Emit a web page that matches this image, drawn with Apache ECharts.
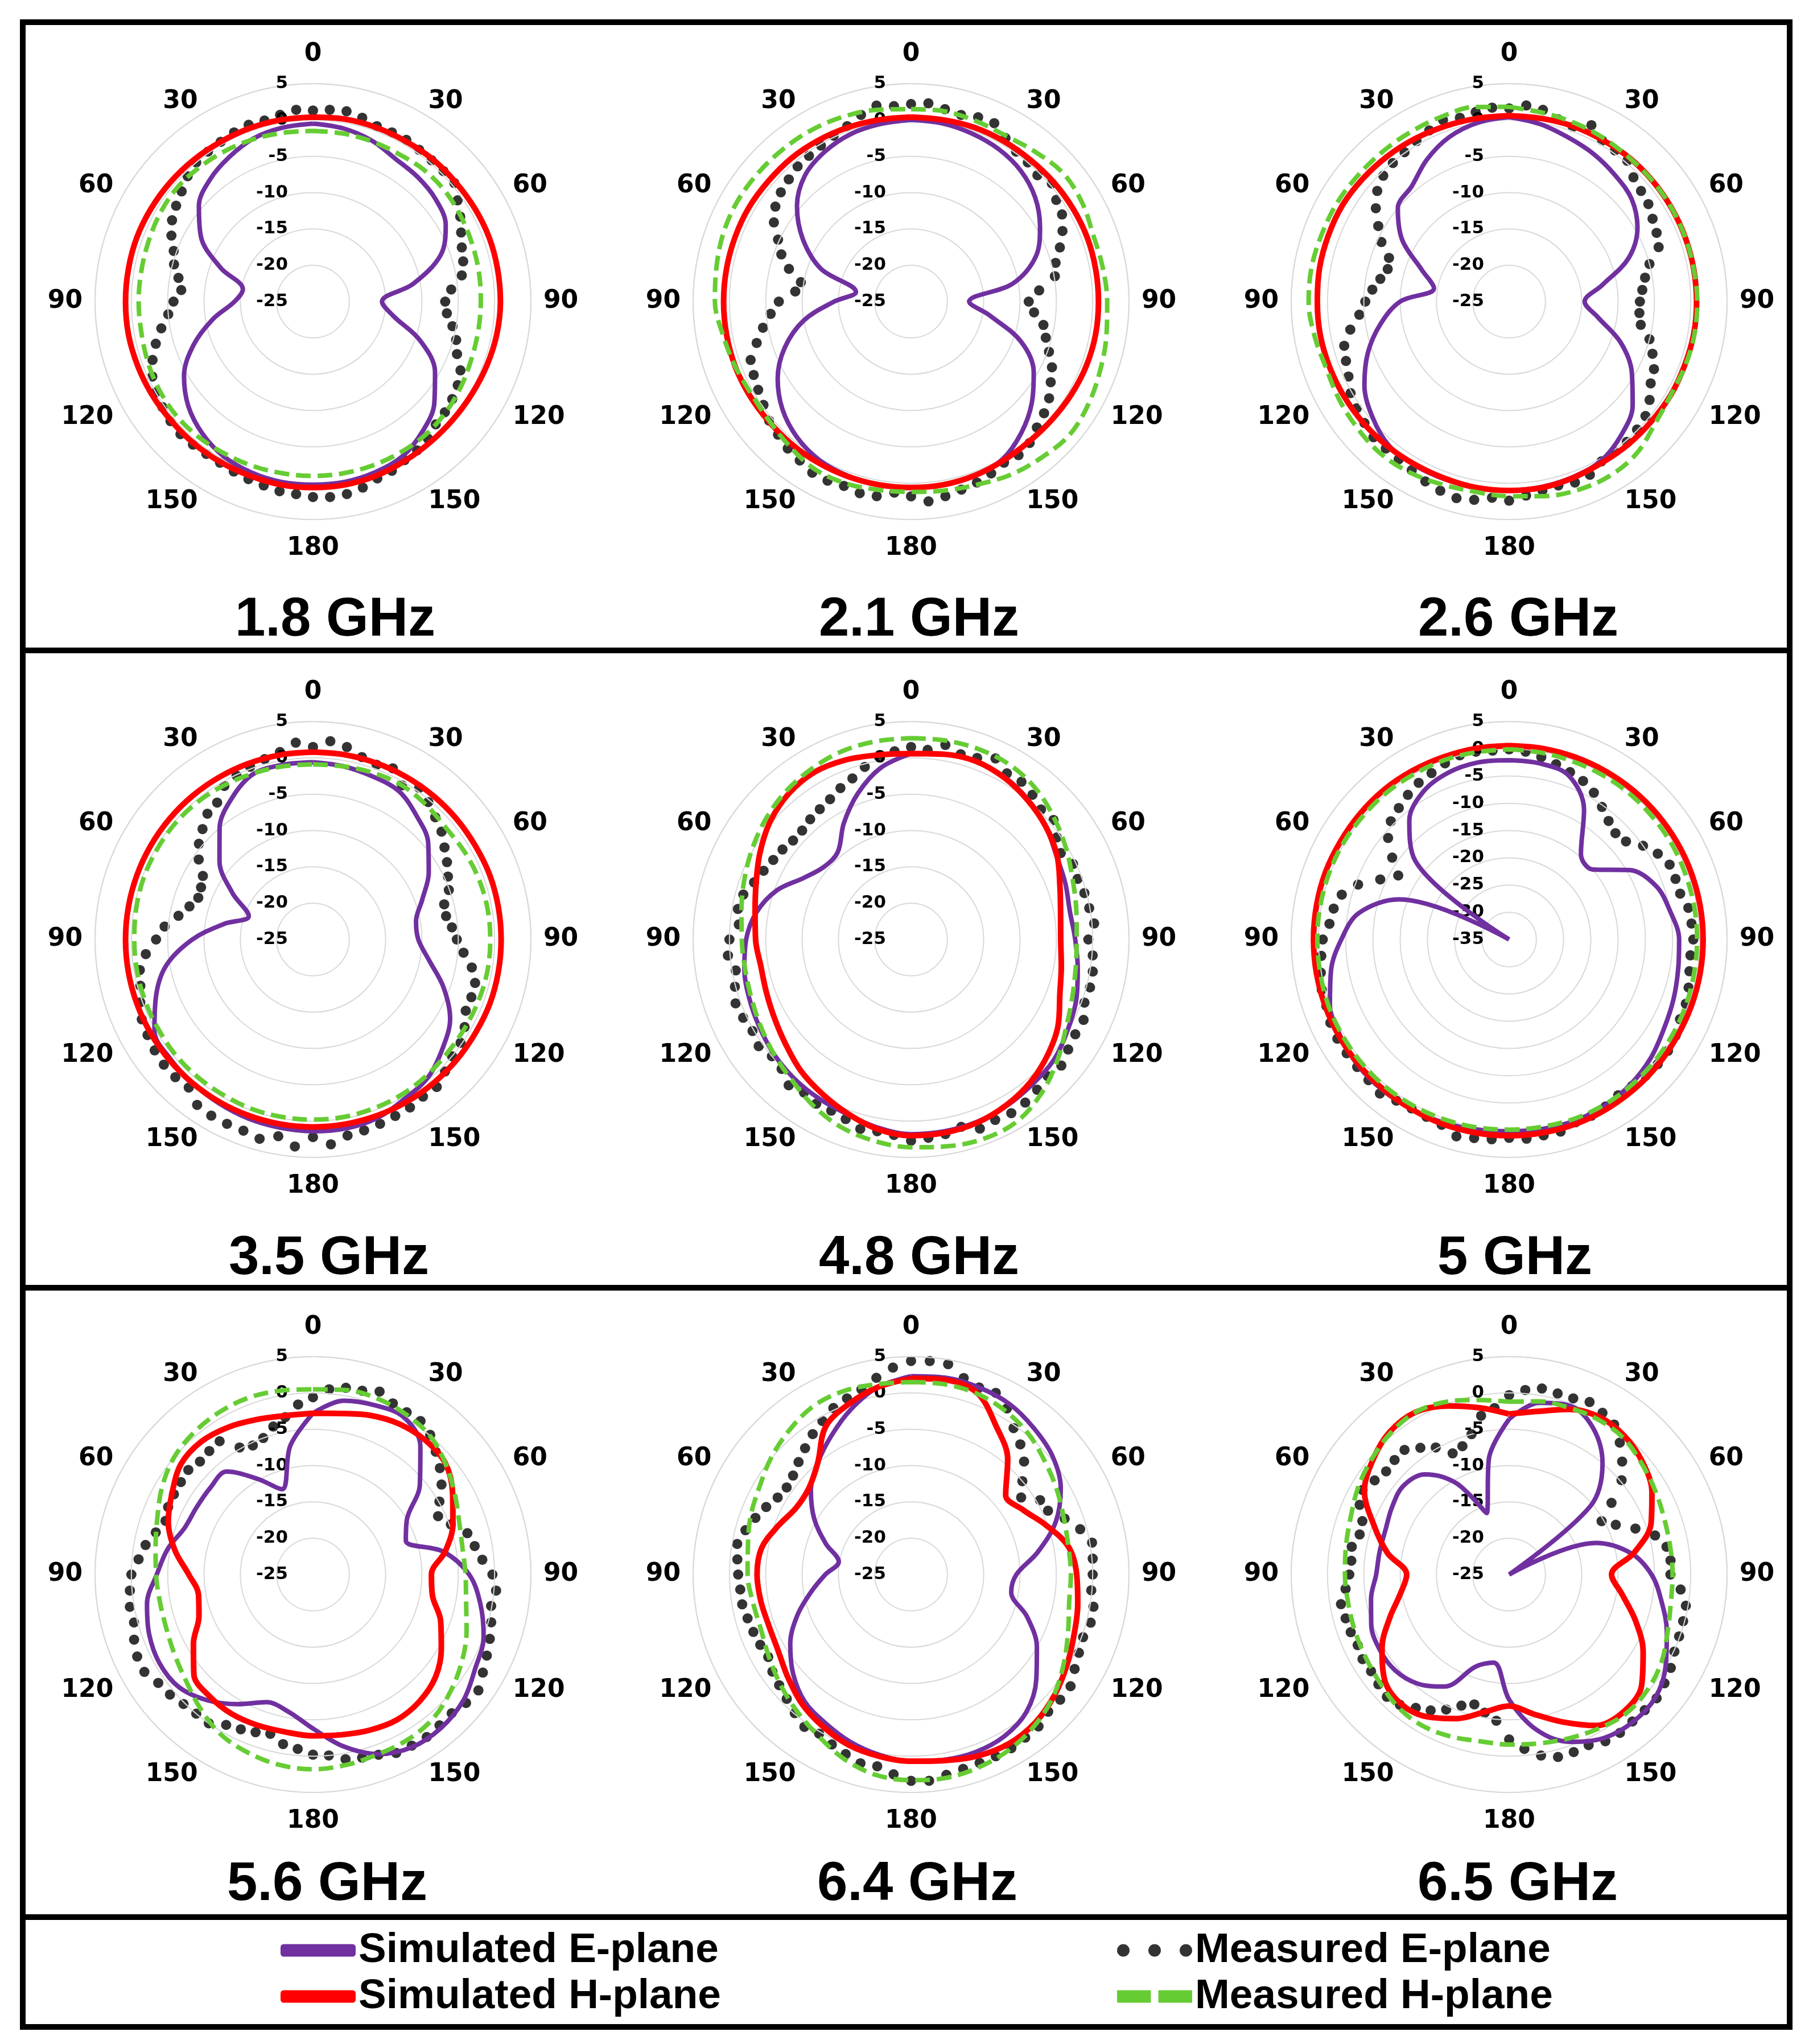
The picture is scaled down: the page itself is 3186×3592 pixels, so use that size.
<!DOCTYPE html>
<html>
<head>
<meta charset="utf-8">
<title>Radiation patterns</title>
<script src="https://cdn.jsdelivr.net/npm/echarts/dist/echarts.min.js"></script>
<style>
  html, body { margin: 0; padding: 0; background: #fff; }
  #chart { width: 3186px; height: 3592px; }
</style>
</head>
<body>
<div id="chart"></div>
<script>
// angle grids (degrees, clockwise from top)
const angles10 = [0,10,20,30,40,50,60,70,80,90,100,110,120,130,140,150,160,170,180,190,200,210,220,230,240,250,260,270,280,290,300,310,320,330,340,350];
const angles5 = [0,5,10,15,20,25,30,35,40,45,50,55,60,65,70,75,80,85,90,95,100,105,110,115,120,125,130,135,140,145,150,155,160,165,170,175,180,185,190,195,200,205,210,215,220,225,230,235,240,245,250,255,260,265,270,275,280,285,290,295,300,305,310,315,320,325,330,335,340,345,350,355];

const freqTitles = ['1.8 GHz', '2.1 GHz', '2.6 GHz', '3.5 GHz', '4.8 GHz', '5 GHz', '5.6 GHz', '6.4 GHz', '6.5 GHz'];
const radiusMin = [-25, -25, -25, -25, -25, -35, -25, -25, -25];
const radiusMax = 5;
const seriesNames = ['Simulated E-plane', 'Simulated H-plane', 'Measured E-plane', 'Measured H-plane'];

// ---- 1.8 GHz ----
const simE_18 = [-0.5,-0.8,-1.4,-2.3,-2.6,-3.0,-3.9,-6.3,-11.0,-15.5,-13.8,-9.3,-5.6,-3.2,-1.6,-0.4,0.0,0.2,0.2,0.2,0.0,-0.4,-1.3,-2.6,-4.5,-7.5,-11.0,-14.2,-15.2,-11.5,-7.2,-4.5,-3.0,-2.0,-1.1,-0.7];
const simH_18 = [0.4,0.5,0.5,0.5,0.6,0.6,0.7,0.8,0.8,0.8,0.7,0.5,0.3,0.2,0.2,0.3,0.5,0.6,0.6,0.6,0.5,0.5,0.5,0.5,0.6,0.7,0.8,0.8,0.8,0.8,0.7,0.6,0.5,0.4,0.4,0.4];
const measH_18 = [-1.5,-1.5,-1.5,-1.5,-1.3,-1.3,-1.5,-1.7,-1.8,-1.9,-1.9,-1.8,-1.5,-1.2,-1.0,-1.0,-1.0,-1.0,-1.0,-1.0,-0.9,-0.8,-0.6,-0.5,-0.6,-0.8,-1.0,-1.0,-1.0,-0.9,-0.7,-0.6,-0.8,-1.0,-1.2,-1.4];
const measE_18 = [1.3,1.5,1.6,1.2,0.7,0.7,0.7,0.5,0.4,0.4,0.4,-0.7,
  -1.6,-2.5,-3.2,-3.6,-4.2,-5.9,-6.8,-6.5,-5.5,-4.6,-3.9,-2.6,
  -2.0,-1.6,-1.3,-1.1,-0.4,0.0,0.2,0.7,0.9,1.5,1.9,2.0,
  1.9,1.6,1.5,1.2,1.0,0.8,0.6,0.6,0.7,0.8,0.6,0.3,
  0.0,-0.6,-1.5,-2.6,-3.8,-5.0,-5.8,-6.8,-6.2,-5.2,-4.6,-3.5,
  -2.6,-2.0,-1.4,-0.6,0.0,0.2,0.4,0.7,0.9,0.8,1.1,1.5];

// ---- 2.1 GHz ----
const simE_21 = [0.0,-0.1,-0.4,-0.8,-1.5,-2.7,-4.5,-6.7,-10.8,-17.0,-14.0,-8.9,-5.5,-3.3,-1.4,0.1,0.5,0.6,0.6,0.6,0.5,0.2,-0.6,-1.9,-3.8,-6.5,-10.0,-14.4,-17.3,-11.8,-7.8,-4.5,-2.3,-1.2,-0.5,-0.2];
const simH_21 = [0.4,0.4,0.5,0.5,0.5,0.6,0.7,0.8,0.8,0.8,0.8,0.7,0.5,0.3,0.2,0.3,0.5,0.6,0.6,0.6,0.6,0.6,0.6,0.6,0.7,0.8,0.8,0.8,0.8,0.8,0.8,0.7,0.7,0.6,0.5,0.4];
const measH_21 = [1.5,1.6,1.4,1.3,1.8,2.4,2.2,1.7,1.8,2.0,2.3,2.7,3.2,3.5,3.0,2.5,1.8,1.4,1.2,1.3,1.6,1.6,1.0,0.5,0.4,0.8,1.3,2.0,2.2,2.5,2.6,2.5,2.4,2.3,2.1,1.8];
const measE_21 = [2.2,2.4,1.9,1.6,2.0,2.1,1.0,0.2,0.0,-0.4,0.3,-0.6,
  -1.0,-2.0,-3.2,-4.4,-4.9,-7.3,-8.8,-8.0,-6.5,-5.8,-4.8,-3.6,
  -2.8,-1.8,-1.1,-0.5,0.4,0.8,0.6,1.1,1.5,1.8,2.2,2.6,
  1.8,1.4,2.2,2.3,2.0,2.2,2.2,1.7,1.4,0.9,0.5,-0.2,
  -0.7,-1.1,-1.5,-3.0,-4.3,-5.6,-6.8,-9.0,-9.6,-7.6,-6.0,-4.8,
  -3.2,-2.2,-1.6,-1.2,-0.7,-0.5,-0.2,0.2,0.7,1.6,2.4,2.0];

// ---- 2.6 GHz ----
const simE_26 = [0.4,-0.2,-1.0,-1.6,-2.3,-3.0,-4.6,-7.5,-12.0,-14.6,-12.6,-8.7,-5.5,-2.8,-1.0,0.3,0.7,0.9,1.0,1.0,1.0,1.0,0.8,-0.4,-2.0,-4.3,-7.0,-10.0,-14.5,-12.2,-8.0,-5.0,-4.2,-2.4,-0.9,0.0];
const simH_26 = [0.6,0.6,0.7,0.7,0.8,0.8,0.8,0.8,0.8,0.8,0.8,0.7,0.7,0.6,0.6,0.6,0.8,1.0,1.0,1.0,0.9,0.9,1.0,1.1,1.2,1.3,1.4,1.4,1.5,1.5,1.5,1.3,1.1,0.9,0.7,0.6];
const measH_26 = [1.8,1.4,1.2,1.0,0.8,0.8,0.8,0.8,0.8,0.9,0.9,0.8,0.7,1.2,2.3,2.7,2.6,2.2,1.8,1.6,1.8,2.2,2.4,2.2,2.0,1.8,2.2,2.6,2.6,2.4,2.3,2.1,2.0,2.0,2.1,2.2];
const measE_26 = [1.6,2.1,1.8,1.0,0.6,1.8,0.6,0.4,0.3,-0.8,-1.3,-1.6,
  -2.2,-2.6,-3.1,-5.0,-6.0,-6.6,-7.0,-7.0,-6.6,-5.0,-4.0,-3.0,
  -2.5,-1.4,-0.5,-0.1,0.2,0.2,0.4,1.3,1.5,1.2,1.4,1.8,
  2.4,2.1,2.7,3.0,2.7,2.3,1.8,1.5,1.4,1.4,1.0,0.6,
  0.2,-0.6,-1.1,-1.5,-2.8,-4.3,-5.2,-6.1,-7.0,-7.7,-7.4,-5.6,
  -4.2,-2.6,-1.3,-0.5,-0.1,0.1,0.5,1.0,1.6,1.2,1.5,1.8];

// ---- 3.5 GHz ----
const simE_35 = [-0.6,-0.8,-1.1,-1.4,-2.8,-4.3,-6.6,-9.0,-10.6,-10.5,-8.8,-5.9,-3.2,-1.7,-0.3,0.3,1.1,1.4,1.4,1.3,1.2,1.0,0.8,0.6,0.2,-2.0,-4.5,-8.4,-12.6,-15.6,-12.2,-8.2,-5.0,-2.6,-0.8,-0.6];
const simH_35 = [0.8,0.8,0.8,0.8,0.8,0.8,0.8,0.9,0.9,0.9,0.9,0.9,0.8,0.8,0.8,0.8,0.8,0.8,0.8,0.8,0.8,0.8,0.8,0.8,0.8,0.8,0.8,0.8,0.8,0.8,0.8,0.8,0.8,0.8,0.8,0.8];
const measH_35 = [-0.9,-0.8,-0.6,-0.5,-0.8,-1.1,-0.9,-0.7,-0.6,-0.6,-0.6,-0.7,-0.8,-0.8,-0.6,-0.4,-0.3,-0.2,-0.2,-0.2,-0.2,-0.3,-0.3,-0.3,-0.4,-0.4,-0.4,-0.4,-0.3,-0.2,-0.2,-0.2,-0.3,-0.5,-0.7,-0.8];
const measE_35 = [1.5,2.4,1.9,1.0,0.6,1.0,-0.5,0.5,-0.3,-1.2,-1.9,-2.9,
  -3.7,-4.5,-5.1,-6.3,-6.4,-5.8,-5.2,-4.2,-2.8,-1.9,-1.8,-1.8,
  -0.9,-0.2,0.0,0.7,1.5,1.4,1.7,1.8,2.0,2.2,2.4,3.3,
  2.2,3.6,2.5,3.4,3.0,3.0,3.0,2.8,1.6,1.8,1.8,1.6,
  1.3,1.0,0.3,-0.4,-0.8,-1.9,-3.4,-4.5,-6.2,-7.4,-8.2,-8.0,
  -7.5,-5.8,-4.5,-3.5,-2.4,-2.0,-0.6,-0.1,0.3,0.7,1.2,2.2];

// ---- 4.8 GHz ----
const simE_48 = [0.6,0.9,1.1,0.8,0.1,-0.8,-1.9,-2.4,-2.8,-2.4,-1.7,-0.8,-0.1,0.7,1.0,1.4,1.7,1.8,1.8,1.3,0.6,0.3,0.0,-0.4,-0.9,-1.3,-1.7,-2.3,-3.4,-5.3,-8.0,-9.4,-9.3,-6.5,-3.6,-1.0];
const simH_48 = [0.6,0.9,1.1,0.7,0.0,-0.8,-1.8,-3.2,-4.1,-4.4,-4.0,-3.2,-1.6,-0.4,0.6,1.3,1.8,2.0,2.0,1.5,0.5,-0.5,-1.4,-2.5,-3.3,-3.8,-4.0,-3.6,-3.2,-2.3,-1.0,0.3,1.2,1.6,1.3,0.8];
const measH_48 = [2.7,2.8,2.8,2.6,1.9,0.8,-0.3,-1.3,-1.9,-2.2,-2.0,-1.4,-0.4,1.2,2.8,4.0,4.2,3.9,3.6,3.2,2.6,1.6,0.4,-0.4,-1.1,-1.6,-1.8,-1.7,-1.3,-0.6,0.2,1.0,1.7,2.2,2.6,2.7];
const measE_48 = [1.5,1.2,2.2,1.4,1.6,2.5,1.4,1.5,1.0,0.3,0.6,-0.5,
  -1.2,-0.4,-0.6,-0.3,-0.1,0.3,-0.6,0.1,0.4,0.5,0.4,1.2,
  1.1,1.4,2.0,1.6,2.0,2.4,2.6,2.4,2.7,1.7,2.2,2.4,
  2.7,2.0,1.8,2.0,1.3,1.0,1.1,0.7,1.2,0.2,0.0,0.6,
  0.2,0.5,0.7,0.1,-0.5,0.3,0.0,-1.2,-0.8,-1.1,-2.0,-2.6,
  -3.1,-3.4,-3.8,-3.8,-3.4,-3.1,-2.7,-2.0,-1.4,-0.4,0.6,1.0];

// ---- 5 GHz ----
const simE_50 = [-2.1,-2.2,-3.0,-7.5,-14.5,-15.0,-9.5,-6.3,-5.0,-3.8,-3.5,-2.9,-2.2,-1.1,-0.3,0.2,0.4,0.3,0.2,0.4,0.7,0.9,1.1,1.1,0.7,0.0,-1.8,-4.2,-7.0,-13.5,-35,-12.5,-6.5,-3.6,-2.4,-2.0];
const simH_50 = [0.6,0.6,0.6,0.6,0.6,0.6,0.6,0.6,0.6,0.6,0.6,0.6,0.6,0.7,0.8,0.9,1.0,1.0,1.0,1.0,1.0,0.9,0.9,0.9,0.9,0.9,0.9,0.9,0.9,0.9,0.8,0.8,0.8,0.7,0.6,0.6];
const measH_50 = [-0.1,-0.2,-0.3,-0.3,-0.3,-0.4,-0.4,-0.5,-0.5,-0.5,-0.5,-0.4,-0.3,-0.2,-0.1,0.0,0.0,-0.1,-0.1,0.0,0.1,0.2,0.3,0.3,0.3,0.3,0.2,0.2,0.2,0.2,0.2,0.1,0.1,0.0,0.0,-0.1];
const measE_50 = [-0.1,-0.4,-1.0,-1.7,-2.3,-2.9,-3.9,-5.3,-6.6,-7.4,-7.0,-5.0,
  -3.5,-2.5,-2.5,-2.5,-1.6,-1.4,-1.2,-1.6,-1.4,-0.9,-0.5,-0.4,
  0.3,0.6,0.6,0.4,0.1,-0.1,0.4,0.7,0.7,1.5,1.5,1.7,
  1.4,1.8,2.0,2.4,1.2,0.9,0.8,1.1,1.9,1.5,1.4,1.4,
  1.4,1.2,0.7,0.6,0.1,-0.4,-0.8,-1.9,-2.3,-3.2,-5.5,-8.9,
  -11.5,-8.8,-6.0,-4.3,-3.5,-2.6,-1.8,-1.3,-0.6,0.0,0.0,-0.2];

// ---- 5.6 GHz ----
const simE_56 = [-2.8,-0.7,-0.2,0.0,-2.0,-5.8,-10.1,-11.4,-6.8,-3.5,-1.6,0.0,0.8,2.0,2.5,2.4,1.3,-1.0,-3.8,-5.8,-6.3,-4.4,-2.4,-0.9,-0.6,-1.0,-1.8,-3.5,-4.7,-6.2,-6.5,-6.5,-6.5,-9.8,-12.5,-7.0];
const simH_56 = [-2.8,-2.5,-1.7,-1.1,-0.9,-1.2,-2.8,-4.5,-6.5,-8.7,-8.3,-6.3,-4.6,-3.0,-2.2,-1.9,-2.2,-2.6,-2.8,-3.0,-2.9,-2.8,-3.0,-3.6,-6.0,-8.3,-9.0,-7.9,-5.7,-3.8,-2.6,-1.3,-1.1,-1.6,-2.3,-2.8];
const measH_56 = [0.5,0.8,0.8,0.5,0.0,-1.2,-2.5,-3.6,-4.1,-4.0,-3.6,-2.5,-1.3,-0.2,0.8,1.2,1.3,1.6,1.8,1.6,1.1,0.4,-0.9,-2.2,-3.0,-3.5,-3.6,-3.4,-3.0,-2.2,-1.0,0.0,0.5,0.8,0.9,0.7];
const measE_56 = [-0.6,0.6,1.1,1.2,1.8,1.0,0.8,0.8,0.1,-1.1,-2.2,-3.4,
  -4.9,-6.0,-4.8,-3.0,-2.4,-1.6,-0.3,0.3,-0.1,0.4,0.9,1.4,
  2.0,2.8,2.5,2.0,2.1,2.3,2.2,2.1,1.4,1.1,0.8,0.0,
  -0.2,-0.9,-1.3,-2.3,-1.9,-1.5,-1.1,0.0,0.0,0.2,0.7,1.0,
  1.8,1.7,1.2,0.5,0.6,0.3,0.0,-0.9,-1.6,-2.6,-3.4,-3.0,
  -2.9,-2.8,-2.6,-3.0,-2.8,-2.6,-4.8,-5.4,-5.0,-3.9,-3.0,-1.5];

// ---- 6.4 GHz ----
const simE_64 = [2.3,2.5,2.4,2.1,1.3,0.4,-1.2,-3.8,-7.3,-10.5,-11.0,-8.0,-5.0,-2.5,-0.3,0.7,1.0,0.9,0.7,0.2,-0.5,-1.4,-2.2,-3.8,-5.8,-8.3,-11.0,-13.2,-14.9,-12.5,-9.6,-7.0,-5.0,-3.0,-0.8,1.2];
const simH_64 = [2.0,2.2,1.6,-1.5,-4.3,-8.0,-7.2,-5.2,-3.0,-2.2,-1.7,-1.1,-0.2,0.8,1.6,1.9,1.6,1.0,0.7,0.4,0.0,-0.8,-1.7,-2.9,-3.9,-4.2,-4.0,-3.8,-4.1,-5.5,-6.7,-6.6,-5.0,-1.5,0.0,1.2];
const measH_64 = [1.5,1.6,1.5,1.0,0.2,-0.9,-1.8,-2.6,-3.0,-3.0,-2.9,-2.0,-0.7,0.7,1.8,2.6,3.1,3.4,3.3,3.0,2.0,0.6,-0.5,-1.5,-2.4,-3.0,-2.9,-2.5,-2.2,-1.5,-0.9,0.1,1.0,1.8,1.9,1.6];
const measE_64 = [4.4,4.5,4.4,3.0,2.4,2.6,1.4,-0.4,-1.6,-3.0,-5.0,-6.5,
  -4.5,-4.2,-2.5,-0.9,0.3,0.1,0.0,-0.1,0.5,0.6,0.2,0.5,
  1.0,1.8,1.8,1.7,2.3,2.4,2.6,2.6,2.6,2.7,3.0,3.5,
  3.4,2.6,1.8,1.9,1.3,0.8,0.3,0.6,-0.1,-0.8,-1.3,-1.7,
  -2.3,-2.1,-1.9,-1.7,-1.4,-1.4,-1.2,-1.0,-0.7,-1.4,-2.2,-3.0,
  -3.8,-4.1,-3.8,-3.1,-2.3,-1.4,-0.6,0.3,0.8,1.4,2.5,3.6];

// ---- 6.5 GHz ----
const simE_65 = [-3.6,-1.0,-0.3,-1.8,-5.0,-10.5,-25,-12.3,-8.0,-5.4,-3.7,-1.9,-0.1,1.3,1.5,1.0,-0.5,-3.3,-7.8,-12.7,-11.5,-7.2,-5.4,-4.5,-4.4,-4.8,-5.7,-6.7,-6.9,-6.9,-6.4,-6.0,-7.0,-10.5,-16.0,-8.9];
const simH_65 = [-2.9,-2.2,-0.8,0.0,-0.2,-1.0,-2.3,-4.2,-7.5,-10.9,-9.2,-6.5,-3.7,-1.2,-0.4,-1.0,-3.4,-5.5,-6.9,-5.8,-3.9,-2.4,-1.8,-2.6,-4.8,-7.5,-9.8,-10.9,-8.0,-5.2,-2.0,-0.5,0.6,0.8,-0.3,-1.7];
const measH_65 = [-1.2,-0.8,-0.6,-0.4,-0.5,-1.2,-1.8,-2.3,-2.5,-2.5,-2.4,-1.8,-0.8,-0.2,0.0,-0.5,-1.0,-1.4,-1.6,-1.7,-1.3,-1.0,-1.2,-1.8,-2.2,-2.4,-2.5,-2.4,-2.2,-1.8,-1.0,-0.3,0.4,0.8,0.3,-0.6];
const measE_65 = [-0.3,0.5,1.0,0.8,0.8,1.2,0.7,0.2,-1.3,-3.0,-4.8,-7.8,
  -10.3,-8.8,-6.5,-4.2,-3.0,-2.7,-2.8,-1.3,-0.3,-0.2,-0.1,0.1,
  0.7,1.1,1.5,1.4,1.4,1.6,1.5,0.9,1.0,1.0,0.3,-0.9,
  -2.3,-4.8,-5.7,-6.5,-5.8,-4.5,-3.4,-2.6,-1.6,-1.2,-1.5,-1.8,
  -1.7,-2.0,-1.8,-1.7,-1.5,-2.4,-3.0,-3.2,-3.0,-3.7,-3.5,-2.3,
  -1.7,-2.4,-2.9,-2.7,-2.6,-3.7,-4.8,-6.6,-6.2,-5.0,-2.8,-2.0];

const plots = [
  [simE_18, simH_18, measE_18, measH_18],
  [simE_21, simH_21, measE_21, measH_21],
  [simE_26, simH_26, measE_26, measH_26],
  [simE_35, simH_35, measE_35, measH_35],
  [simE_48, simH_48, measE_48, measH_48],
  [simE_50, simH_50, measE_50, measH_50],
  [simE_56, simH_56, measE_56, measH_56],
  [simE_64, simH_64, measE_64, measH_64],
  [simE_65, simH_65, measE_65, measH_65]
];

// layout
const colX = [550, 1601, 2652];
const rowY = [530, 1651, 2767];
const plotR = 383;
const titleX = [589, 1615, 2668, 578, 1615, 2662, 575, 1612, 2667];
const titleTop = [1043, 2165, 3265];

const purple = '#7030A0', red = '#FF0000', black = '#000000', green = '#66CC33';
const gridGray = '#D9D9D9';
const tickFont = { fontSize: 44, fontWeight: 'bold', fontFamily: 'DejaVu Sans', color: '#000' };

function closedLoop(vals, angs) {
  const pts = vals.map((v, k) => [v, angs[k]]);
  pts.push([vals[0], 360]);
  return pts;
}

const polar = [], angleAxis = [], radiusAxis = [], series = [], title = [];

plots.forEach((p, i) => {
  const cx = colX[i % 3], cy = rowY[Math.floor(i / 3)];
  polar.push({ center: [cx, cy], radius: plotR });
  angleAxis.push({
    polarIndex: i,
    type: 'value',
    min: 0, max: 360, interval: 30,
    startAngle: 90, clockwise: true,
    axisLine: { lineStyle: { color: gridGray, width: 2 } },
    axisTick: { show: false },
    splitLine: { show: false },
    axisLabel: Object.assign({
      margin: 22,
      lineHeight: 2,
      // side labels sit centred on their anchor, the 0 / 180 labels keep a full line box
      formatter: v => (v === 0 || v === 180) ? '{pole|' + v + '}' : String(v > 180 ? 360 - v : v),
      rich: { pole: Object.assign({ lineHeight: 58 }, tickFont) }
    }, tickFont)
  });
  radiusAxis.push({
    polarIndex: i,
    type: 'value',
    min: radiusMin[i], max: radiusMax, interval: 5,
    axisLine: { show: false },
    axisTick: { show: false },
    splitLine: { show: true, lineStyle: { color: gridGray, width: 2 } },
    axisLabel: {
      margin: 44,
      color: '#000',
      fontSize: 31,
      fontWeight: 'bold',
      fontFamily: 'DejaVu Sans'
    },
    z: 3
  });
  title.push({
    text: freqTitles[i],
    left: titleX[i],
    top: titleTop[Math.floor(i / 3)],
    textAlign: 'center',
    padding: 0,
    textStyle: { fontSize: 96, fontWeight: 'bold', fontFamily: 'Liberation Sans', color: '#000' }
  });

  series.push({
    name: seriesNames[0], type: 'line', coordinateSystem: 'polar', polarIndex: i,
    data: closedLoop(p[0], angles10), smooth: 0.35, showSymbol: false,
    itemStyle: { color: purple },
    lineStyle: { color: purple, width: 8 }
  });
  series.push({
    name: seriesNames[1], type: 'line', coordinateSystem: 'polar', polarIndex: i,
    data: closedLoop(p[1], angles10), smooth: 0.35, showSymbol: false,
    itemStyle: { color: red },
    lineStyle: { color: red, width: 10 }
  });
  series.push({
    name: seriesNames[2], type: 'scatter', coordinateSystem: 'polar', polarIndex: i,
    data: p[2].map((v, k) => [v, angles5[k]]),
    symbol: 'circle', symbolSize: 18,
    itemStyle: { color: black }
  });
  series.push({
    name: seriesNames[3], type: 'line', coordinateSystem: 'polar', polarIndex: i,
    data: closedLoop(p[3], angles10), smooth: 0.35, showSymbol: false,
    itemStyle: { color: green },
    lineStyle: { color: green, width: 8, type: [26, 12] }
  });
});

const legendText = { fontSize: 73, fontWeight: 'bold', fontFamily: 'Liberation Sans', color: '#000', lineHeight: 72 };
const dotsIcon = 'path://M0 10A10 10 0 1 0 20 10A10 10 0 1 0 0 10ZM50 10A10 10 0 1 0 70 10A10 10 0 1 0 50 10ZM100 10A10 10 0 1 0 120 10A10 10 0 1 0 100 10Z';
const dashIcon = 'path://M0 0H54V20H0ZM66 0H120V20H66Z';

const option = {
  animation: false,
  backgroundColor: '#fff',
  title: title,
  polar: polar,
  angleAxis: angleAxis,
  radiusAxis: radiusAxis,
  legend: [
    {
      left: 488, top: 3386, orient: 'vertical', itemGap: 8,
      itemWidth: 132, itemHeight: 22, selectedMode: false,
      data: [{ name: seriesNames[0], icon: 'roundRect' }, { name: seriesNames[1], icon: 'roundRect' }],
      textStyle: legendText
    },
    {
      left: 1958, top: 3386, orient: 'vertical', itemGap: 8,
      itemWidth: 132, itemHeight: 22, selectedMode: false,
      data: [{ name: seriesNames[2], icon: dotsIcon }, { name: seriesNames[3], icon: dashIcon }],
      textStyle: legendText
    }
  ],
  graphic: [
    { type: 'rect', shape: { x: 40, y: 39, width: 3105, height: 3523 }, style: { fill: 'none', stroke: '#000', lineWidth: 10 } },
    { type: 'line', shape: { x1: 40, y1: 1143, x2: 3145, y2: 1143 }, style: { stroke: '#000', lineWidth: 10 } },
    { type: 'line', shape: { x1: 40, y1: 2263, x2: 3145, y2: 2263 }, style: { stroke: '#000', lineWidth: 10 } },
    { type: 'line', shape: { x1: 40, y1: 3369, x2: 3145, y2: 3369 }, style: { stroke: '#000', lineWidth: 10 } }
  ],
  series: series
};

const chart = echarts.init(document.getElementById('chart'));
chart.setOption(option);
</script>
</body>
</html>
